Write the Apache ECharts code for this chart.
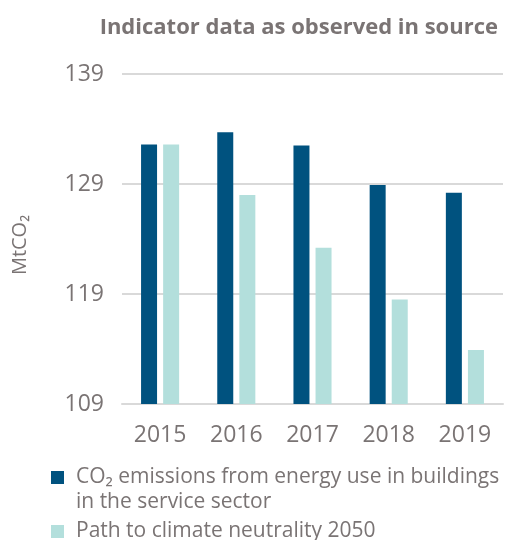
<!DOCTYPE html>
<html>
<head>
<meta charset="utf-8">
<script src="https://cdn.jsdelivr.net/npm/echarts@6/dist/echarts.min.js"></script>
<style>
  html, body { margin: 0; padding: 0; background: #fff; }
  #chart { width: 505px; height: 540px; }
</style>
</head>
<body>
<div id="chart"></div>
<script>
const years = ['2015', '2016', '2017', '2018', '2019']
const emissions = [132.6, 133.7, 132.5, 128.9, 128.2]
const pathToNeutrality = [132.6, 128.0, 123.2, 118.5, 113.9]
const seriesNames = [
  'CO₂ emissions from energy use in buildings\nin the service sector',
  'Path to climate neutrality 2050'
]

const textGrey = '#7a7474'
const fontFamily = '"Open Sans", Lato, sans-serif'

const chart = echarts.init(document.getElementById('chart'), null, { renderer: 'canvas' })

chart.setOption({
  backgroundColor: '#fff',
  animation: false,
  title: {
    text: 'Indicator data as observed in source',
    right: 2,
    top: 12,
    textStyle: {
      color: textGrey,
      fontSize: 22,
      fontWeight: 'bold',
      fontFamily: fontFamily
    }
  },
  legend: [
    {
      data: [seriesNames[0]],
      left: 46,
      top: 435,
      orient: 'vertical',
      itemWidth: 13,
      itemHeight: 13,
      itemGap: 0,
      icon: 'rect',
      selectedMode: false,
      // blank first line keeps the square level with the first text line
      formatter: (name) => '\n' + name,
      textStyle: {
        color: textGrey,
        fontSize: 21,
        fontFamily: fontFamily,
        lineHeight: 25,
        padding: [0, 0, 0, 7]
      }
    },
    {
      data: [seriesNames[1]],
      left: 46,
      top: 516,
      orient: 'vertical',
      itemWidth: 13,
      itemHeight: 13,
      icon: 'rect',
      selectedMode: false,
      textStyle: {
        color: textGrey,
        fontSize: 21,
        fontFamily: fontFamily,
        padding: [0, 0, 0, 7]
      }
    }
  ],
  grid: {
    left: 122,
    right: 2,
    top: 74,
    bottom: 136,
    containLabel: false
  },
  xAxis: {
    type: 'category',
    data: years,
    axisLine: {
      show: true,
      lineStyle: { color: '#d9d9d9', width: 2 }
    },
    axisTick: { show: false },
    axisLabel: {
      color: textGrey,
      fontSize: 23,
      fontFamily: fontFamily,
      margin: 20
    }
  },
  yAxis: {
    type: 'value',
    name: 'MtCO₂',
    nameLocation: 'middle',
    nameGap: 92,
    nameTextStyle: {
      color: textGrey,
      fontSize: 20,
      fontFamily: fontFamily,
      padding: [0, 12, 0, 0]
    },
    min: 109,
    max: 139,
    interval: 10,
    axisLine: { show: false },
    axisTick: { show: false },
    axisLabel: {
      color: textGrey,
      fontSize: 23,
      fontFamily: fontFamily,
      margin: 18
    },
    splitLine: {
      show: true,
      lineStyle: { color: '#d9d9d9', width: 2 }
    }
  },
  series: [
    {
      name: seriesNames[0],
      type: 'bar',
      data: emissions,
      barWidth: 16,
      barGap: '38%',
      itemStyle: { color: '#00527f' }
    },
    {
      name: seriesNames[1],
      type: 'bar',
      data: pathToNeutrality,
      barWidth: 16,
      itemStyle: { color: '#b3dfdc' }
    }
  ]
})
</script>
</body>
</html>
